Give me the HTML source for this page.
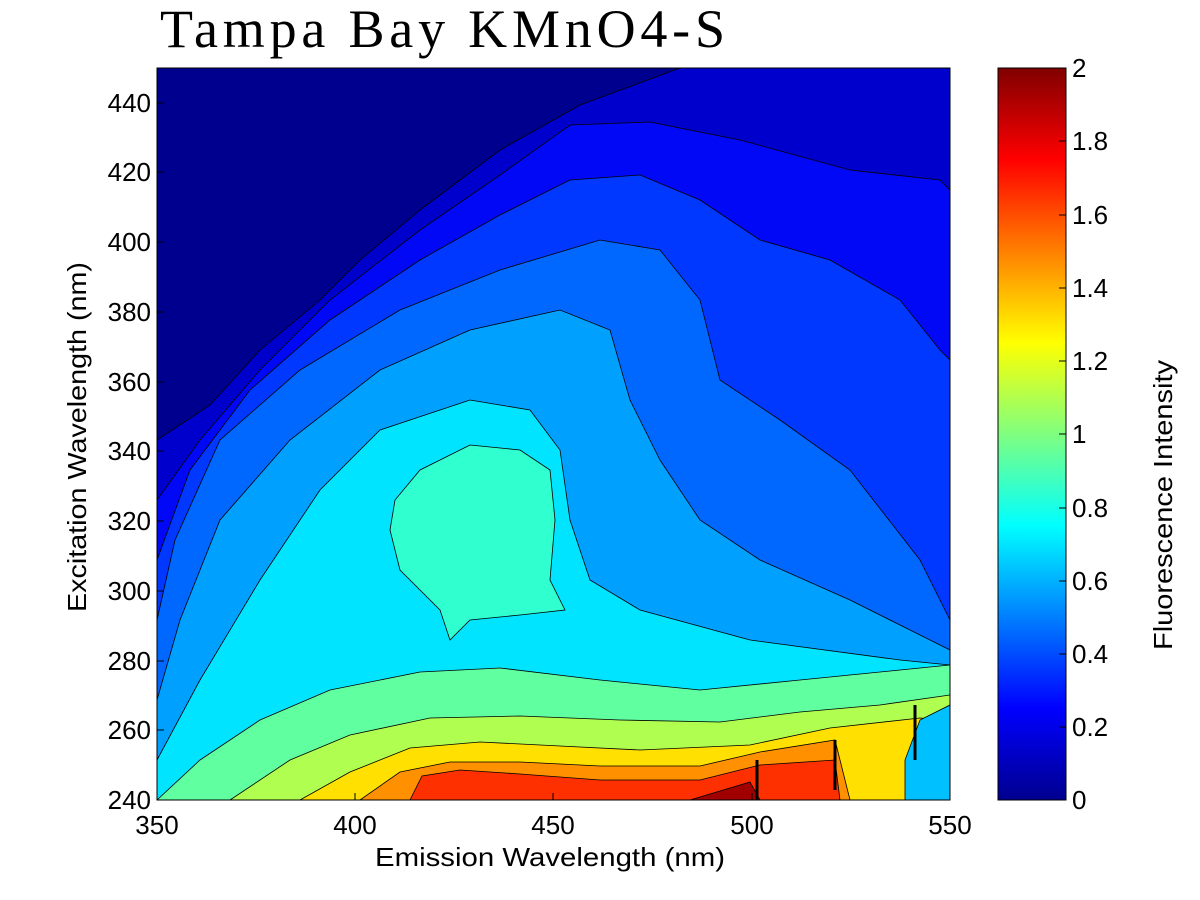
<!DOCTYPE html>
<html><head><meta charset="utf-8"><style>
body{margin:0;background:#fff;}
svg{display:block;font-family:"Liberation Sans",Arial,sans-serif;}
</style></head><body>
<svg width="1200" height="900" viewBox="0 0 1200 900" xmlns="http://www.w3.org/2000/svg">
<defs>
<linearGradient id="jet" x1="0" y1="1" x2="0" y2="0">
<stop offset="0" stop-color="#00008f"/>
<stop offset="0.125" stop-color="#0000ff"/>
<stop offset="0.375" stop-color="#00ffff"/>
<stop offset="0.625" stop-color="#ffff00"/>
<stop offset="0.875" stop-color="#ff0000"/>
<stop offset="1" stop-color="#800000"/>
</linearGradient>
<clipPath id="pc"><rect x="157" y="68" width="793" height="732"/></clipPath>
</defs>
<rect width="1200" height="900" fill="#fff"/>
<text x="160" y="47" font-family="'Liberation Serif',serif" font-size="54" fill="#000" textLength="565" lengthAdjust="spacing">Tampa Bay KMnO4-S</text>
<g clip-path="url(#pc)" stroke="#000" stroke-width="0.8">
<rect x="157" y="68" width="793" height="732" fill="#00008f" stroke="none"/>
<polygon fill="#0000cc" points="157,440 210,405 260,350 320,300 360,260 420,210 500,150 580,105 680,68 950,68 950,800 157,800"/>
<polygon fill="#0008f5" points="157,500 200,440 260,370 330,300 420,230 500,175 570,125 650,122 740,140 850,170 940,180 950,190 950,800 157,800"/>
<polygon fill="#0038ff" points="157,560 190,470 250,390 330,320 420,260 500,215 570,180 640,175 700,200 760,240 830,260 900,300 940,350 950,360 950,800 157,800"/>
<polygon fill="#0068ff" points="157,620 175,540 220,440 300,370 400,310 500,270 600,240 660,250 700,300 720,380 780,420 850,470 920,560 950,620 950,800 157,800"/>
<polygon fill="#00a0ff" points="157,700 180,620 220,520 290,440 380,370 470,330 560,310 610,330 630,400 660,460 700,520 760,560 850,600 950,650 950,800 157,800"/>
<polygon fill="#00e4ff" points="157,760 200,680 260,580 320,490 380,430 470,400 530,410 560,450 570,520 590,580 640,610 750,640 900,660 950,665 950,800 157,800"/>
<polygon fill="#30ffd0" points="390,530 395,500 420,470 470,445 520,450 550,470 555,520 550,580 565,610 520,615 470,620 450,640 440,610 400,570"/>
<polygon fill="#60ffa0" points="157,800 200,760 260,720 330,690 420,672 500,668 600,680 700,690 800,680 900,670 950,665 950,800"/>
<polygon fill="#b0ff50" points="230,800 290,760 350,735 430,718 520,716 620,720 720,722 800,712 880,705 950,695 950,800"/>
<polygon fill="#ffe000" points="300,800 350,772 410,748 480,742 560,746 640,750 750,745 830,728 920,718 950,720 950,800"/>
<polygon fill="#ff9000" points="360,800 400,772 450,762 520,762 600,766 700,766 760,752 835,740 850,800"/>
<polygon fill="#ff3000" points="410,800 422,776 460,770 520,774 600,780 700,780 760,765 835,760 840,800"/>
<polygon fill="#a00000" points="690,800 750,782 760,800"/>
<polygon fill="#00c0ff" points="905,760 920,720 950,705 950,800 905,800"/>
<g stroke-width="3"><line x1="757" y1="760" x2="757" y2="800"/><line x1="835" y1="740" x2="835" y2="790"/><line x1="915" y1="705" x2="915" y2="760"/></g>
</g>
<rect x="157" y="68" width="793" height="732" fill="none" stroke="#000" stroke-width="1"/>
<g stroke="#000" stroke-width="1">
<line x1="157" y1="800" x2="157" y2="793"/><line x1="355" y1="800" x2="355" y2="793"/><line x1="553" y1="800" x2="553" y2="793"/><line x1="752" y1="800" x2="752" y2="793"/><line x1="950" y1="800" x2="950" y2="793"/>
<line x1="157" y1="730" x2="164" y2="730"/><line x1="157" y1="661" x2="164" y2="661"/><line x1="157" y1="591" x2="164" y2="591"/><line x1="157" y1="521" x2="164" y2="521"/><line x1="157" y1="451" x2="164" y2="451"/><line x1="157" y1="382" x2="164" y2="382"/><line x1="157" y1="312" x2="164" y2="312"/><line x1="157" y1="242" x2="164" y2="242"/><line x1="157" y1="172" x2="164" y2="172"/><line x1="157" y1="103" x2="164" y2="103"/>
</g>
<g font-size="26" fill="#000" text-anchor="end">
<text x="151" y="809">240</text><text x="151" y="739">260</text><text x="151" y="670">280</text><text x="151" y="600">300</text><text x="151" y="530">320</text><text x="151" y="460">340</text><text x="151" y="391">360</text><text x="151" y="321">380</text><text x="151" y="251">400</text><text x="151" y="181">420</text><text x="151" y="112">440</text>
</g>
<g font-size="26" fill="#000" text-anchor="middle">
<text x="157" y="834">350</text><text x="355" y="834">400</text><text x="553" y="834">450</text><text x="752" y="834">500</text><text x="950" y="834">550</text>
<text x="550" y="866" font-size="26" textLength="350" lengthAdjust="spacingAndGlyphs">Emission Wavelength (nm)</text>
<text transform="translate(86,437) rotate(-90)" font-size="26" textLength="350" lengthAdjust="spacingAndGlyphs">Excitation Wavelength (nm)</text>
<text transform="translate(1172,505) rotate(-90)" font-size="26" textLength="290" lengthAdjust="spacingAndGlyphs">Fluorescence Intensity</text>
</g>
<rect x="998" y="68" width="68" height="732" fill="url(#jet)" stroke="#000" stroke-width="1"/>
<g stroke="#000" stroke-width="1">
<line x1="1059" y1="727" x2="1066" y2="727"/><line x1="1059" y1="654" x2="1066" y2="654"/><line x1="1059" y1="581" x2="1066" y2="581"/><line x1="1059" y1="508" x2="1066" y2="508"/><line x1="1059" y1="434" x2="1066" y2="434"/><line x1="1059" y1="361" x2="1066" y2="361"/><line x1="1059" y1="288" x2="1066" y2="288"/><line x1="1059" y1="215" x2="1066" y2="215"/><line x1="1059" y1="141" x2="1066" y2="141"/>
</g>
<g font-size="26" fill="#000">
<text x="1072" y="809">0</text><text x="1072" y="736">0.2</text><text x="1072" y="663">0.4</text><text x="1072" y="590">0.6</text><text x="1072" y="517">0.8</text><text x="1072" y="443">1</text><text x="1072" y="370">1.2</text><text x="1072" y="297">1.4</text><text x="1072" y="224">1.6</text><text x="1072" y="150">1.8</text><text x="1072" y="77">2</text>
</g>
</svg>
</body></html>
